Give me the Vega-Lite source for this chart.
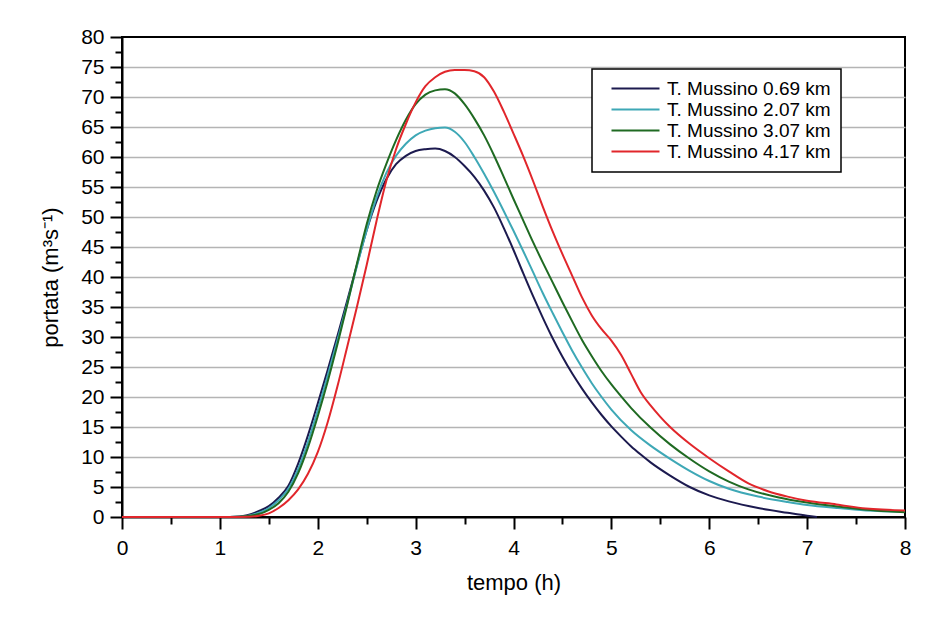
{
  "$schema": "https://vega.github.io/schema/vega-lite/v6.json",
  "width": 783,
  "height": 480,
  "autosize": {"type": "none"},
  "padding": {"left": 122, "top": 37, "right": 40, "bottom": 101},
  "background": "white",
  "data": {"values": [
    {"t":0,"q":0,"s":"T. Mussino 0.69 km"},{"t":1.0,"q":0,"s":"T. Mussino 0.69 km"},{"t":1.2,"q":0.1,"s":"T. Mussino 0.69 km"},{"t":1.4,"q":1.0,"s":"T. Mussino 0.69 km"},{"t":1.5,"q":1.8,"s":"T. Mussino 0.69 km"},{"t":1.6,"q":3.2,"s":"T. Mussino 0.69 km"},{"t":1.7,"q":5.2,"s":"T. Mussino 0.69 km"},{"t":1.8,"q":8.9,"s":"T. Mussino 0.69 km"},{"t":1.9,"q":13.6,"s":"T. Mussino 0.69 km"},{"t":2.0,"q":18.9,"s":"T. Mussino 0.69 km"},{"t":2.1,"q":24.4,"s":"T. Mussino 0.69 km"},{"t":2.2,"q":30.1,"s":"T. Mussino 0.69 km"},{"t":2.3,"q":36.0,"s":"T. Mussino 0.69 km"},{"t":2.4,"q":42,"s":"T. Mussino 0.69 km"},{"t":2.5,"q":47.8,"s":"T. Mussino 0.69 km"},{"t":2.6,"q":52.6,"s":"T. Mussino 0.69 km"},{"t":2.7,"q":56.3,"s":"T. Mussino 0.69 km"},{"t":2.8,"q":58.8,"s":"T. Mussino 0.69 km"},{"t":2.9,"q":60.2,"s":"T. Mussino 0.69 km"},{"t":3.0,"q":61.0,"s":"T. Mussino 0.69 km"},{"t":3.1,"q":61.3,"s":"T. Mussino 0.69 km"},{"t":3.2,"q":61.4,"s":"T. Mussino 0.69 km"},{"t":3.3,"q":61.0,"s":"T. Mussino 0.69 km"},{"t":3.4,"q":60,"s":"T. Mussino 0.69 km"},{"t":3.5,"q":58.5,"s":"T. Mussino 0.69 km"},{"t":3.6,"q":56.7,"s":"T. Mussino 0.69 km"},{"t":3.7,"q":54.4,"s":"T. Mussino 0.69 km"},{"t":3.8,"q":51.6,"s":"T. Mussino 0.69 km"},{"t":3.9,"q":48.2,"s":"T. Mussino 0.69 km"},{"t":4.0,"q":44.5,"s":"T. Mussino 0.69 km"},{"t":4.1,"q":40.6,"s":"T. Mussino 0.69 km"},{"t":4.2,"q":36.8,"s":"T. Mussino 0.69 km"},{"t":4.3,"q":33.2,"s":"T. Mussino 0.69 km"},{"t":4.4,"q":29.8,"s":"T. Mussino 0.69 km"},{"t":4.5,"q":26.7,"s":"T. Mussino 0.69 km"},{"t":4.6,"q":23.9,"s":"T. Mussino 0.69 km"},{"t":4.7,"q":21.4,"s":"T. Mussino 0.69 km"},{"t":4.8,"q":19.1,"s":"T. Mussino 0.69 km"},{"t":4.9,"q":17.0,"s":"T. Mussino 0.69 km"},{"t":5.0,"q":15.1,"s":"T. Mussino 0.69 km"},{"t":5.1,"q":13.4,"s":"T. Mussino 0.69 km"},{"t":5.2,"q":11.8,"s":"T. Mussino 0.69 km"},{"t":5.3,"q":10.4,"s":"T. Mussino 0.69 km"},{"t":5.4,"q":9.1,"s":"T. Mussino 0.69 km"},{"t":5.6,"q":6.9,"s":"T. Mussino 0.69 km"},{"t":5.8,"q":5.0,"s":"T. Mussino 0.69 km"},{"t":6.0,"q":3.6,"s":"T. Mussino 0.69 km"},{"t":6.2,"q":2.6,"s":"T. Mussino 0.69 km"},{"t":6.5,"q":1.5,"s":"T. Mussino 0.69 km"},{"t":6.8,"q":0.7,"s":"T. Mussino 0.69 km"},{"t":7.0,"q":0.2,"s":"T. Mussino 0.69 km"},{"t":7.1,"q":0,"s":"T. Mussino 0.69 km"},

    {"t":0,"q":0,"s":"T. Mussino 2.07 km"},{"t":1.0,"q":0,"s":"T. Mussino 2.07 km"},{"t":1.2,"q":0.05,"s":"T. Mussino 2.07 km"},{"t":1.4,"q":0.7,"s":"T. Mussino 2.07 km"},{"t":1.5,"q":1.5,"s":"T. Mussino 2.07 km"},{"t":1.6,"q":2.8,"s":"T. Mussino 2.07 km"},{"t":1.7,"q":4.7,"s":"T. Mussino 2.07 km"},{"t":1.8,"q":8.0,"s":"T. Mussino 2.07 km"},{"t":1.9,"q":12.5,"s":"T. Mussino 2.07 km"},{"t":2.0,"q":17.8,"s":"T. Mussino 2.07 km"},{"t":2.1,"q":23.5,"s":"T. Mussino 2.07 km"},{"t":2.2,"q":29.4,"s":"T. Mussino 2.07 km"},{"t":2.3,"q":35.5,"s":"T. Mussino 2.07 km"},{"t":2.4,"q":41.8,"s":"T. Mussino 2.07 km"},{"t":2.5,"q":47.8,"s":"T. Mussino 2.07 km"},{"t":2.6,"q":53.2,"s":"T. Mussino 2.07 km"},{"t":2.7,"q":57.3,"s":"T. Mussino 2.07 km"},{"t":2.8,"q":60.2,"s":"T. Mussino 2.07 km"},{"t":2.9,"q":62.2,"s":"T. Mussino 2.07 km"},{"t":3.0,"q":63.6,"s":"T. Mussino 2.07 km"},{"t":3.1,"q":64.4,"s":"T. Mussino 2.07 km"},{"t":3.2,"q":64.8,"s":"T. Mussino 2.07 km"},{"t":3.3,"q":64.9,"s":"T. Mussino 2.07 km"},{"t":3.4,"q":64.2,"s":"T. Mussino 2.07 km"},{"t":3.5,"q":62.5,"s":"T. Mussino 2.07 km"},{"t":3.6,"q":60.0,"s":"T. Mussino 2.07 km"},{"t":3.7,"q":57.2,"s":"T. Mussino 2.07 km"},{"t":3.8,"q":54.2,"s":"T. Mussino 2.07 km"},{"t":3.9,"q":51,"s":"T. Mussino 2.07 km"},{"t":4.0,"q":47.7,"s":"T. Mussino 2.07 km"},{"t":4.1,"q":44.3,"s":"T. Mussino 2.07 km"},{"t":4.2,"q":40.8,"s":"T. Mussino 2.07 km"},{"t":4.3,"q":37.3,"s":"T. Mussino 2.07 km"},{"t":4.4,"q":34,"s":"T. Mussino 2.07 km"},{"t":4.5,"q":30.8,"s":"T. Mussino 2.07 km"},{"t":4.6,"q":27.7,"s":"T. Mussino 2.07 km"},{"t":4.7,"q":24.9,"s":"T. Mussino 2.07 km"},{"t":4.8,"q":22.3,"s":"T. Mussino 2.07 km"},{"t":4.9,"q":20,"s":"T. Mussino 2.07 km"},{"t":5.0,"q":17.9,"s":"T. Mussino 2.07 km"},{"t":5.2,"q":14.5,"s":"T. Mussino 2.07 km"},{"t":5.4,"q":11.9,"s":"T. Mussino 2.07 km"},{"t":5.6,"q":9.7,"s":"T. Mussino 2.07 km"},{"t":5.8,"q":7.7,"s":"T. Mussino 2.07 km"},{"t":6.0,"q":6.0,"s":"T. Mussino 2.07 km"},{"t":6.2,"q":4.7,"s":"T. Mussino 2.07 km"},{"t":6.5,"q":3.4,"s":"T. Mussino 2.07 km"},{"t":6.8,"q":2.5,"s":"T. Mussino 2.07 km"},{"t":7.0,"q":2.0,"s":"T. Mussino 2.07 km"},{"t":7.3,"q":1.5,"s":"T. Mussino 2.07 km"},{"t":7.6,"q":1.1,"s":"T. Mussino 2.07 km"},{"t":8.0,"q":0.9,"s":"T. Mussino 2.07 km"},

    {"t":0,"q":0,"s":"T. Mussino 3.07 km"},{"t":1.0,"q":0,"s":"T. Mussino 3.07 km"},{"t":1.2,"q":0.05,"s":"T. Mussino 3.07 km"},{"t":1.4,"q":0.5,"s":"T. Mussino 3.07 km"},{"t":1.5,"q":1.2,"s":"T. Mussino 3.07 km"},{"t":1.6,"q":2.3,"s":"T. Mussino 3.07 km"},{"t":1.7,"q":4.2,"s":"T. Mussino 3.07 km"},{"t":1.8,"q":7.3,"s":"T. Mussino 3.07 km"},{"t":1.9,"q":11.6,"s":"T. Mussino 3.07 km"},{"t":2.0,"q":16.8,"s":"T. Mussino 3.07 km"},{"t":2.1,"q":22.5,"s":"T. Mussino 3.07 km"},{"t":2.2,"q":28.7,"s":"T. Mussino 3.07 km"},{"t":2.3,"q":35.3,"s":"T. Mussino 3.07 km"},{"t":2.4,"q":42.2,"s":"T. Mussino 3.07 km"},{"t":2.5,"q":48.8,"s":"T. Mussino 3.07 km"},{"t":2.6,"q":54.3,"s":"T. Mussino 3.07 km"},{"t":2.7,"q":58.8,"s":"T. Mussino 3.07 km"},{"t":2.8,"q":62.8,"s":"T. Mussino 3.07 km"},{"t":2.9,"q":66.2,"s":"T. Mussino 3.07 km"},{"t":3.0,"q":68.8,"s":"T. Mussino 3.07 km"},{"t":3.1,"q":70.4,"s":"T. Mussino 3.07 km"},{"t":3.2,"q":71.1,"s":"T. Mussino 3.07 km"},{"t":3.3,"q":71.3,"s":"T. Mussino 3.07 km"},{"t":3.4,"q":70.6,"s":"T. Mussino 3.07 km"},{"t":3.5,"q":68.8,"s":"T. Mussino 3.07 km"},{"t":3.6,"q":66.4,"s":"T. Mussino 3.07 km"},{"t":3.7,"q":63.6,"s":"T. Mussino 3.07 km"},{"t":3.8,"q":60.3,"s":"T. Mussino 3.07 km"},{"t":3.9,"q":56.7,"s":"T. Mussino 3.07 km"},{"t":4.0,"q":53,"s":"T. Mussino 3.07 km"},{"t":4.1,"q":49.4,"s":"T. Mussino 3.07 km"},{"t":4.2,"q":45.8,"s":"T. Mussino 3.07 km"},{"t":4.3,"q":42.4,"s":"T. Mussino 3.07 km"},{"t":4.4,"q":39.1,"s":"T. Mussino 3.07 km"},{"t":4.5,"q":35.8,"s":"T. Mussino 3.07 km"},{"t":4.6,"q":32.6,"s":"T. Mussino 3.07 km"},{"t":4.7,"q":29.5,"s":"T. Mussino 3.07 km"},{"t":4.8,"q":26.8,"s":"T. Mussino 3.07 km"},{"t":4.9,"q":24.3,"s":"T. Mussino 3.07 km"},{"t":5.0,"q":22.1,"s":"T. Mussino 3.07 km"},{"t":5.1,"q":20.1,"s":"T. Mussino 3.07 km"},{"t":5.2,"q":18.2,"s":"T. Mussino 3.07 km"},{"t":5.4,"q":14.9,"s":"T. Mussino 3.07 km"},{"t":5.6,"q":12.1,"s":"T. Mussino 3.07 km"},{"t":5.8,"q":9.7,"s":"T. Mussino 3.07 km"},{"t":6.0,"q":7.6,"s":"T. Mussino 3.07 km"},{"t":6.2,"q":5.9,"s":"T. Mussino 3.07 km"},{"t":6.4,"q":4.6,"s":"T. Mussino 3.07 km"},{"t":6.7,"q":3.3,"s":"T. Mussino 3.07 km"},{"t":7.0,"q":2.4,"s":"T. Mussino 3.07 km"},{"t":7.4,"q":1.6,"s":"T. Mussino 3.07 km"},{"t":7.7,"q":1.1,"s":"T. Mussino 3.07 km"},{"t":8.0,"q":0.8,"s":"T. Mussino 3.07 km"},

    {"t":0,"q":0,"s":"T. Mussino 4.17 km"},{"t":1.0,"q":0,"s":"T. Mussino 4.17 km"},{"t":1.3,"q":0.05,"s":"T. Mussino 4.17 km"},{"t":1.4,"q":0.2,"s":"T. Mussino 4.17 km"},{"t":1.5,"q":0.6,"s":"T. Mussino 4.17 km"},{"t":1.6,"q":1.5,"s":"T. Mussino 4.17 km"},{"t":1.7,"q":2.8,"s":"T. Mussino 4.17 km"},{"t":1.8,"q":4.6,"s":"T. Mussino 4.17 km"},{"t":1.9,"q":7.2,"s":"T. Mussino 4.17 km"},{"t":2.0,"q":10.8,"s":"T. Mussino 4.17 km"},{"t":2.1,"q":15.7,"s":"T. Mussino 4.17 km"},{"t":2.2,"q":21.7,"s":"T. Mussino 4.17 km"},{"t":2.3,"q":28.3,"s":"T. Mussino 4.17 km"},{"t":2.4,"q":35,"s":"T. Mussino 4.17 km"},{"t":2.5,"q":42,"s":"T. Mussino 4.17 km"},{"t":2.6,"q":49.3,"s":"T. Mussino 4.17 km"},{"t":2.7,"q":56.0,"s":"T. Mussino 4.17 km"},{"t":2.8,"q":61.3,"s":"T. Mussino 4.17 km"},{"t":2.9,"q":65.5,"s":"T. Mussino 4.17 km"},{"t":3.0,"q":69.1,"s":"T. Mussino 4.17 km"},{"t":3.1,"q":71.8,"s":"T. Mussino 4.17 km"},{"t":3.2,"q":73.3,"s":"T. Mussino 4.17 km"},{"t":3.3,"q":74.2,"s":"T. Mussino 4.17 km"},{"t":3.4,"q":74.5,"s":"T. Mussino 4.17 km"},{"t":3.5,"q":74.5,"s":"T. Mussino 4.17 km"},{"t":3.6,"q":74.3,"s":"T. Mussino 4.17 km"},{"t":3.7,"q":73.3,"s":"T. Mussino 4.17 km"},{"t":3.8,"q":70.9,"s":"T. Mussino 4.17 km"},{"t":3.9,"q":67.6,"s":"T. Mussino 4.17 km"},{"t":4.0,"q":63.9,"s":"T. Mussino 4.17 km"},{"t":4.1,"q":60.1,"s":"T. Mussino 4.17 km"},{"t":4.2,"q":56,"s":"T. Mussino 4.17 km"},{"t":4.3,"q":51.7,"s":"T. Mussino 4.17 km"},{"t":4.4,"q":47.6,"s":"T. Mussino 4.17 km"},{"t":4.5,"q":43.8,"s":"T. Mussino 4.17 km"},{"t":4.6,"q":40.2,"s":"T. Mussino 4.17 km"},{"t":4.7,"q":36.6,"s":"T. Mussino 4.17 km"},{"t":4.8,"q":33.6,"s":"T. Mussino 4.17 km"},{"t":4.9,"q":31.3,"s":"T. Mussino 4.17 km"},{"t":5.0,"q":29.4,"s":"T. Mussino 4.17 km"},{"t":5.1,"q":27,"s":"T. Mussino 4.17 km"},{"t":5.2,"q":23.9,"s":"T. Mussino 4.17 km"},{"t":5.3,"q":20.8,"s":"T. Mussino 4.17 km"},{"t":5.4,"q":18.6,"s":"T. Mussino 4.17 km"},{"t":5.5,"q":16.7,"s":"T. Mussino 4.17 km"},{"t":5.6,"q":15,"s":"T. Mussino 4.17 km"},{"t":5.8,"q":12.2,"s":"T. Mussino 4.17 km"},{"t":6.0,"q":9.8,"s":"T. Mussino 4.17 km"},{"t":6.2,"q":7.6,"s":"T. Mussino 4.17 km"},{"t":6.4,"q":5.6,"s":"T. Mussino 4.17 km"},{"t":6.6,"q":4.3,"s":"T. Mussino 4.17 km"},{"t":6.8,"q":3.4,"s":"T. Mussino 4.17 km"},{"t":7.0,"q":2.7,"s":"T. Mussino 4.17 km"},{"t":7.3,"q":2.1,"s":"T. Mussino 4.17 km"},{"t":7.6,"q":1.4,"s":"T. Mussino 4.17 km"},{"t":8.0,"q":1.1,"s":"T. Mussino 4.17 km"}
  ]},
  "mark": {"type": "line", "interpolate": "monotone", "strokeWidth": 2},
  "encoding": {
    "x": {
      "field": "t", "type": "quantitative",
      "scale": {"domain": [0, 8], "nice": false, "zero": false},
      "axis": {
        "title": "tempo (h)",
        "values": [0,0.5,1,1.5,2,2.5,3,3.5,4,4.5,5,5.5,6,6.5,7,7.5,8],
        "labelExpr": "datum.value % 1 === 0 ? format(datum.value, 'd') : ''",
        "tickSize": {"condition": {"test": "datum.value % 1 !== 0", "value": 7}, "value": 12},
        "grid": false,
        "labelPadding": 8,
        "titlePadding": 14,
        "labelFlush": false,
        "labelOverlap": false
      }
    },
    "y": {
      "field": "q", "type": "quantitative",
      "scale": {"domain": [0, 80], "nice": false},
      "axis": {
        "title": "portata (m³s⁻¹)",
        "values": [0,2.5,5,7.5,10,12.5,15,17.5,20,22.5,25,27.5,30,32.5,35,37.5,40,42.5,45,47.5,50,52.5,55,57.5,60,62.5,65,67.5,70,72.5,75,77.5,80],
        "labelExpr": "datum.value % 5 === 0 ? format(datum.value, 'd') : ''",
        "tickSize": {"condition": {"test": "datum.value % 5 !== 0", "value": 7}, "value": 12},
        "grid": true,
        "gridOpacity": {"condition": {"test": "datum.value % 5 !== 0 || datum.value === 0 || datum.value === 80", "value": 0}, "value": 1},
        "gridColor": "#b4b4b4",
        "gridWidth": 1.5,
        "labelPadding": 6,
        "titlePadding": 18,
        "labelFlush": false,
        "labelOverlap": false
      }
    },
    "color": {
      "field": "s", "type": "nominal",
      "scale": {
        "domain": ["T. Mussino 0.69 km", "T. Mussino 2.07 km", "T. Mussino 3.07 km", "T. Mussino 4.17 km"],
        "range": ["#1c1a4f", "#3ea8b6", "#1f6a22", "#e1262b"]
      },
      "legend": {
        "title": null,
        "orient": "none",
        "legendX": 470,
        "legendY": 32,
        "symbolType": "M0,0H6",
        "symbolSize": 256,
        "symbolStrokeWidth": 2,
        "labelFontSize": 19,
        "labelFont": "Liberation Sans",
        "labelColor": "black",
        "labelLimit": 0,
        "labelOffset": 46,
        "rowPadding": 1,
        "padding": 10,
        "strokeColor": "black",
        "fillColor": "white"
      }
    }
  },
  "config": {
    "view": {"stroke": "black", "strokeWidth": 2},
    "font": "Liberation Sans",
    "axis": {
      "domainColor": "black",
      "domainWidth": 2,
      "tickColor": "black",
      "tickWidth": 2,
      "labelFont": "Liberation Sans",
      "labelFontSize": 21,
      "labelColor": "black",
      "titleFont": "Liberation Sans",
      "titleFontSize": 22,
      "titleFontWeight": "normal",
      "titleColor": "black"
    },
    "legend": {"strokeWidth": 1.5}
  }
}
